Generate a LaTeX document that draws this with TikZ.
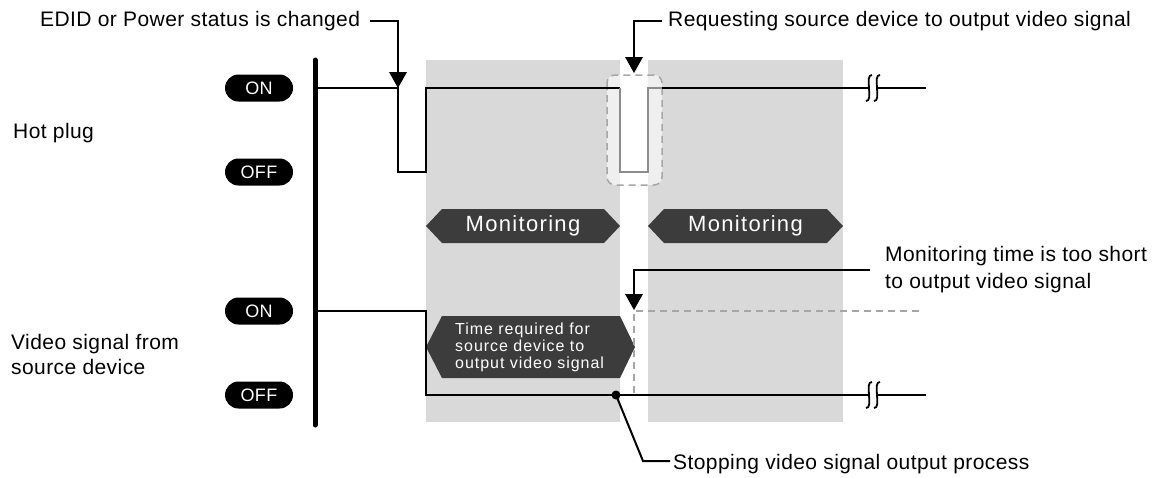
\documentclass[tikz,border=0pt]{standalone}
\usepackage{fontspec}
\setmainfont{Liberation Sans}[LetterSpace=2]
\newfontfamily\hexfont{Liberation Sans}[LetterSpace=6]
\newfontfamily\smallhexfont{Liberation Sans}[LetterSpace=6]
\usetikzlibrary{arrows.meta,shapes.misc}
\definecolor{zone}{HTML}{D9D9D9}
\definecolor{hexc}{HTML}{3C3C3C}
\definecolor{dashc}{HTML}{A6A6A6}
\definecolor{dipc}{HTML}{8C8C8C}
\tikzset{
  lbl/.style={font=\fontsize{21}{25}\selectfont, anchor=base west, inner sep=0pt},
  hexlbl/.style={font=\hexfont\fontsize{22}{22}\selectfont, text=white, inner sep=0pt},
  smallhexlbl/.style={font=\smallhexfont\fontsize{16}{17}\selectfont, text=white, anchor=base west, inner sep=0pt},
  pill/.style={rounded rectangle, fill=black, minimum width=68pt, minimum height=27pt, text=white, font=\fontsize{18}{18}\selectfont, inner sep=0pt},
  sig/.style={line width=2.2pt, line join=miter},
  plainlead/.style={line width=2pt},
  dashline/.style={dashc, line width=1.5pt, dash pattern=on 7pt off 5pt},
  hexfill/.style={fill=hexc},
  zonefill/.style={fill=zone},
  downtri/.style={fill=black},
}
\newcommand{\downarrowhead}[1]{\fill[downtri] ([xshift=-9pt,yshift=16pt]#1) -- ([xshift=9pt,yshift=16pt]#1) -- (#1) -- cycle;}
\begin{document}
\begin{tikzpicture}[x=1pt,y=-1pt]
\useasboundingbox (0,0) rectangle (1160,477);

% monitoring zones
\fill[zonefill] (426,60) rectangle (620,422);
\fill[zonefill] (648,60) rectangle (843,422);

% dashed highlight box
\draw[dashline, fill=white, fill opacity=0.6, rounded corners=8pt] (607,75) rectangle (662,185);

% hexagons
\fill[hexfill] (426,226) -- (442,209) -- (604,209) -- (620,226) -- (604,243) -- (442,243) -- cycle;
\fill[hexfill] (648,226) -- (664,209) -- (827,209) -- (843,226) -- (827,243) -- (664,243) -- cycle;
\fill[hexfill] (426,347) -- (442,316) -- (620,316) -- (635,347) -- (620,378) -- (442,378) -- cycle;
\node[hexlbl] (mon1) at (523,226) {Monitoring};
\node[hexlbl] (mon2) at (745.5,226) {Monitoring};
\node[smallhexlbl] (tr1) at (455,334) {Time required for};
\node[smallhexlbl] (tr2) at (455,351) {source device to};
\node[smallhexlbl] (tr3) at (455,368) {output video signal};

% axis bar
\coordinate (bartop) at (315,60);
\coordinate (barbot) at (315,425);
\draw[line width=5pt, line cap=round] (bartop) -- (barbot);

% pills
\node[pill] (hon) at (259,88) {ON};
\node[pill] (hoff) at (259,172) {OFF};
\node[pill] (von) at (259,311) {ON};
\node[pill] (voff) at (259,395) {OFF};

% left labels
\node[lbl] (hp) at (13,138) {Hot plug};
\node[lbl] (vs1) at (11,349) {Video signal from};
\node[lbl] (vs2) at (11,374) {source device};

% dashed video expectation
\coordinate (dtop) at (634,311);
\coordinate (dbot) at (634,393);
\coordinate (dend) at (920,311);
\draw[dashline] (dbot) -- (dtop) -- (dend);

% hot plug signal
\coordinate (h0) at (318,88);
\coordinate (h1) at (398,88);
\coordinate (h2) at (398,172);
\coordinate (h3) at (426,172);
\coordinate (h4) at (426,88);
\coordinate (h5) at (620,88);
\coordinate (h6) at (620,172);
\coordinate (h7) at (648,172);
\coordinate (h8) at (648,88);
\coordinate (h9) at (662,88);
\coordinate (hend) at (926,88);
\draw[sig] (h0) -- (h1) -- (h2) -- (h3) -- (h4) -- (h5);
\draw[sig, dipc] (h5) -- (h6) -- (h7) -- (h8) -- (h9);
\draw[sig] (h9) -- (hend);

% video signal
\coordinate (v0) at (318,311);
\coordinate (v1) at (426,311);
\coordinate (v2) at (426,395);
\coordinate (vend) at (926,395);
\draw[sig] (v0) -- (v1) -- (v2) -- (vend);

% break symbols
\foreach \yy in {88,395} {
  \fill[white] (872,\yy-13) .. controls (864,\yy-14) and (874,\yy+14) .. (866,\yy+13) -- (874,\yy+13) .. controls (882,\yy+14) and (872,\yy-14) .. (880,\yy-13) -- cycle;
  \draw[line width=1.8pt] (872,\yy-13) .. controls (864,\yy-14) and (874,\yy+14) .. (866,\yy+13);
  \draw[line width=1.8pt] (880,\yy-13) .. controls (872,\yy-14) and (882,\yy+14) .. (874,\yy+13);
}

% top annotations
\node[lbl] (edid) at (40,26.5) {EDID or Power status is changed};
\coordinate (edidl) at (370,20.5);
\coordinate (edidtip) at (398,88);
\draw[plainlead] (edidl) -| ([yshift=14pt]edidtip);
\downarrowhead{edidtip}

\node[lbl] (req) at (668,26.5) {Requesting source device to output video signal};
\coordinate (reql) at (662,20.5);
\coordinate (reqtip) at (634,73);
\draw[plainlead] (reql) -| ([yshift=14pt]reqtip);
\downarrowhead{reqtip}

% monitoring time too short
\node[lbl] (mt1) at (885,261) {Monitoring time is too short};
\node[lbl] (mt2) at (885,288) {to output video signal};
\coordinate (mtl) at (870,270);
\coordinate (mttip) at (634,310);
\draw[plainlead] (mtl) -| ([yshift=14pt]mttip);
\downarrowhead{mttip}

% stopping
\coordinate (dot) at (616,395);
\fill (dot) circle (4.5pt);
\node[lbl] (stop) at (673,469) {Stopping video signal output process};
\coordinate (bend) at (643,461);
\coordinate (stopl) at (670,461);
\draw[plainlead] (dot) -- (bend) -- (stopl);
\end{tikzpicture}
\end{document}
